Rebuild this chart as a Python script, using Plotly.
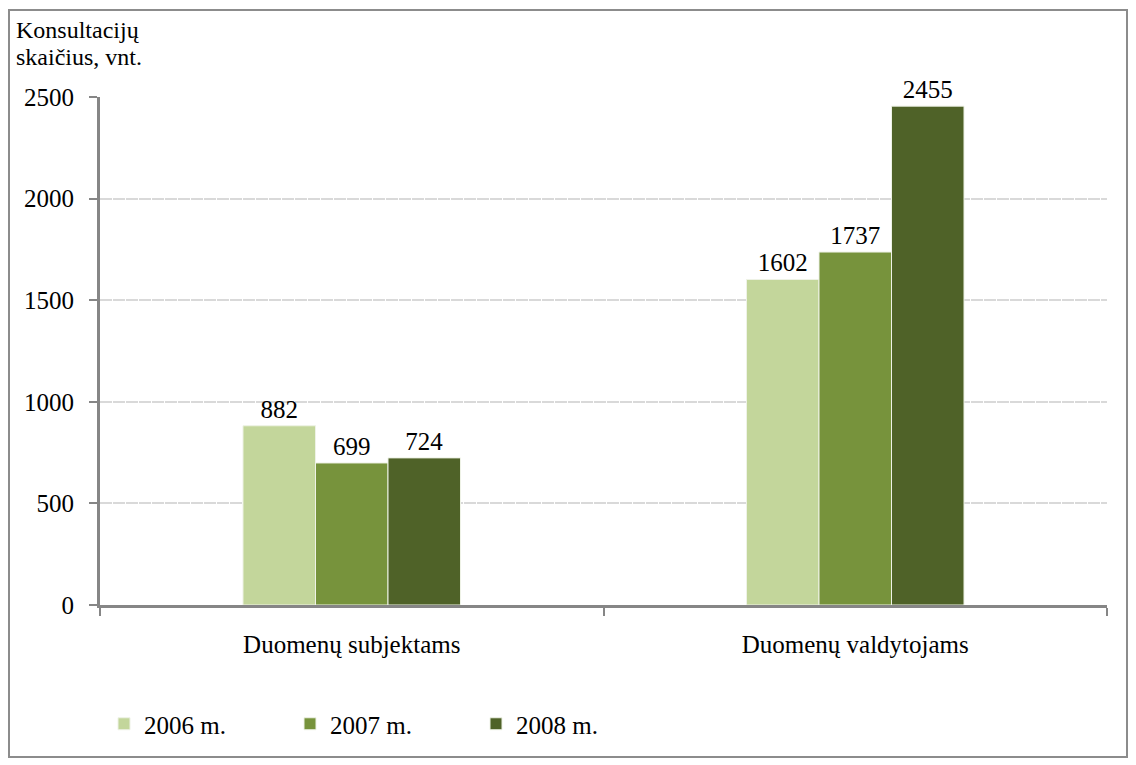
import plotly.graph_objects as go

categories = ["Duomenų subjektams", "Duomenų valdytojams"]
series_names = ["2006 m.", "2007 m.", "2008 m."]
values_2006 = [882, 1602]
values_2007 = [699, 1737]
values_2008 = [724, 2455]
y_ticks = [0, 500, 1000, 1500, 2000, 2500]
colors = ["#c3d69b", "#77933c", "#4f6228"]

FONT = "Liberation Serif, Times New Roman, serif"
W, H = 1128, 757  # page has an 8px body margin

fig = go.Figure()
for name, vals, col in zip(series_names, [values_2006, values_2007, values_2008], colors):
    fig.add_trace(go.Bar(
        x=categories, y=vals, name=name,
        marker=dict(color=col, line=dict(color="#eef2e6", width=1)),
        text=[str(v) for v in vals], textposition="outside",
        textfont=dict(family=FONT, size=25, color="#000000"),
        cliponaxis=False,
    ))

fig.update_layout(
    width=W, height=H,
    margin=dict(l=92, r=29, t=89, b=160),
    paper_bgcolor="white", plot_bgcolor="white",
    barmode="group", bargap=0.568, bargroupgap=0,
    font=dict(family=FONT, size=25, color="#000000"),
    showlegend=True,
    legend=dict(
        orientation="h", x=96 / W, xref="container", y=41 / H, yref="container",
        xanchor="left", yanchor="middle",
        entrywidth=141, entrywidthmode="pixels",
        bgcolor="rgba(0,0,0,0)",
        font=dict(family=FONT, size=25), itemclick=False,
    ),
    xaxis=dict(
        type="category", showline=True, linecolor="#868686", linewidth=3,
        ticks="outside", tickson="boundaries", ticklen=8, tickwidth=2, tickcolor="#868686",
        showgrid=False, ticklabelstandoff=15,
        tickfont=dict(family=FONT, size=25),
    ),
    yaxis=dict(
        range=[0, 2500], tickvals=y_ticks, ticktext=[str(t) for t in y_ticks],
        showline=True, linecolor="#868686", linewidth=3,
        ticks="outside", ticklen=8, tickwidth=2, tickcolor="#868686",
        showgrid=True, gridcolor="#d9d9d9", gridwidth=2, griddash="12px,1px",
        zeroline=False, ticklabelstandoff=10,
        tickfont=dict(family=FONT, size=25),
    ),
    shapes=[dict(
        type="rect", xref="paper", yref="paper",
        x0=(9 - 100) / 1007, x1=(1127 - 100) / 1007,
        y0=(605 - 757) / 508, y1=(605 - 10) / 508,
        line=dict(color="#8c8c8c", width=2), fillcolor="rgba(0,0,0,0)", layer="below",
    )],
    annotations=[
        dict(text="Konsultacijų", xref="paper", yref="paper",
             x=(14 - 100) / 1007, y=(605 - 30) / 508, xanchor="left", yanchor="middle",
             showarrow=False, font=dict(family=FONT, size=24)),
        dict(text="skaičius, vnt.", xref="paper", yref="paper",
             x=(14 - 100) / 1007, y=(605 - 57) / 508, xanchor="left", yanchor="middle",
             showarrow=False, font=dict(family=FONT, size=24)),
    ],
)

fig.write_html("out.html")
